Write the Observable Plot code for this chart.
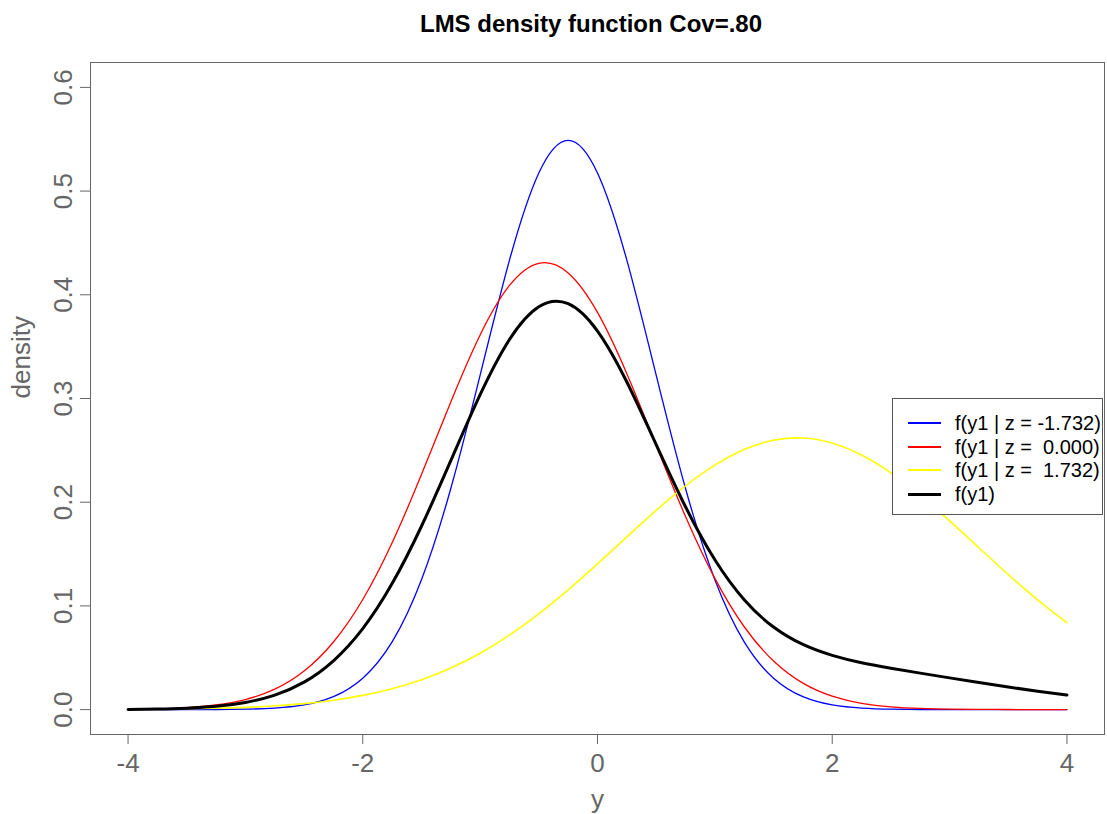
<!DOCTYPE html>
<html>
<head>
<meta charset="utf-8">
<script src="https://cdn.jsdelivr.net/npm/d3@7"></script>
<script src="https://cdn.jsdelivr.net/npm/@observablehq/plot@0.6"></script>
<style>
  html, body { margin: 0; padding: 0; background: #fff; }
  #wrap { position: relative; width: 1107px; height: 814px; font-family: "Liberation Sans", Arial, sans-serif; }
  #title { position: absolute; left: 391px; width: 400px; top: 12px; text-align: center; font-weight: bold; font-size: 24px; line-height: 24px; color: #000; }
  #legend { position: absolute; left: 892px; top: 398px; width: 209px; height: 115px; border: 1px solid #555; background: #fff; }
  .row { position: absolute; left: 0; height: 24px; width: 209px; }
  .sw { position: absolute; left: 15px; width: 33px; }
  .lab { position: absolute; left: 62px; top: 0; font-size: 20px; line-height: 24px; white-space: pre; color: #000; }
</style>
</head>
<body>
<div id="wrap">
  <div id="chart"></div>
  <div id="title"></div>
  <div id="legend"></div>
</div>
<script>
// ---- data ----
const titleText = "LMS density function Cov=.80";
const xLabel = "y";
const yLabel = "density";
const xTicks = [-4, -2, 0, 2, 4];
const yTicks = [0, 0.1, 0.2, 0.3, 0.4, 0.5, 0.6];

const xs = [-4, -3.75, -3.5, -3.25, -3, -2.75, -2.5, -2.25, -2, -1.75, -1.5, -1.25, -1, -0.75, -0.5, -0.25,
            0, 0.25, 0.5, 0.75, 1, 1.25, 1.5, 1.75, 2, 2.25, 2.5, 2.75, 3, 3.25, 3.5, 3.75, 4];

const seriesNames = ["f(y1 | z = -1.732)", "f(y1 | z =  0.000)", "f(y1 | z =  1.732)", "f(y1)"];
const seriesColors = ["#0000FF", "#FF0000", "#FFFF00", "#000000"];
const seriesWidths = [1.3, 1.3, 1.6, 3];

const blueVals = [0, 0, 0, 0.0001, 0.0004, 0.0015, 0.0046, 0.0125, 0.0303, 0.0653, 0.1252, 0.2132, 0.3225, 0.4334, 0.5175, 0.549,
                  0.5175, 0.4334, 0.3225, 0.2132, 0.1252, 0.0653, 0.0303, 0.0125, 0.0046, 0.0015, 0.0004, 0.0001, 0, 0, 0, 0, 0];
const redVals = [0.0003, 0.0008, 0.0019, 0.0045, 0.0097, 0.0197, 0.0372, 0.0652, 0.1062, 0.1609, 0.2266, 0.2967, 0.3613, 0.4090, 0.4304, 0.4211,
                 0.3830, 0.3239, 0.2547, 0.1862, 0.1265, 0.0799, 0.0469, 0.0256, 0.0130, 0.0061, 0.0027, 0.0011, 0.0004, 0.0002, 0.0001, 0, 0];
const yellowVals = [0.0002, 0.0004, 0.0008, 0.0013, 0.0022, 0.0037, 0.0058, 0.0091, 0.0137, 0.0201, 0.0288, 0.0401, 0.0544, 0.0718, 0.0923, 0.1154,
                    0.1405, 0.1665, 0.1921, 0.2157, 0.2357, 0.2508, 0.2597, 0.2619, 0.2570, 0.2455, 0.2282, 0.2066, 0.1820, 0.1561, 0.1303, 0.1059, 0.0838];
const blackVals = [0.0002, 0.0006, 0.0014, 0.0032, 0.0069, 0.0140, 0.0265, 0.0471, 0.0781, 0.1215, 0.1768, 0.2400, 0.3037, 0.3569, 0.3885, 0.3914,
                   0.3650, 0.3159, 0.2556, 0.1956, 0.1445, 0.1060, 0.0796, 0.0628, 0.0523, 0.0452, 0.0399, 0.0352, 0.0306, 0.0261, 0.0218, 0.0177, 0.0140];

const allVals = [blueVals, redVals, yellowVals, blackVals];

// ---- build table ----
const rows = [];
allVals.forEach((vals, si) => {
  vals.forEach((v, i) => rows.push({x: xs[i], y: v, s: si}));
});

const grey = "#666666";

const chart = Plot.plot({
  width: 1107,
  height: 814,
  marginTop: 62,
  marginRight: 3,
  marginBottom: 80,
  marginLeft: 90,
  style: {fontFamily: "'Liberation Sans', Arial, sans-serif", background: "#fff", overflow: "visible"},
  x: {domain: [-4.32, 4.32]},
  y: {domain: [-0.024, 0.624]},
  marks: [
    Plot.frame({stroke: grey, strokeWidth: 1}),
    Plot.axisX({ticks: xTicks, tickSize: 10, tickPadding: 9, fontSize: 26, stroke: grey, fill: grey,
                tickFormat: d => String(d).replace("−", "-"), label: null}),
    Plot.axisY({ticks: yTicks, tickSize: 10, tickPadding: 9, tickRotate: -90, fontSize: 26, stroke: grey, fill: grey,
                tickFormat: d => d.toFixed(1), label: null}),
    Plot.text([xLabel], {frameAnchor: "bottom", dy: 73, fontSize: 26, fill: grey, text: d => d}),
    Plot.text([yLabel], {frameAnchor: "left", dx: -69, rotate: -90, fontSize: 26, fill: grey, text: d => d}),
    ...allVals.map((vals, si) =>
      Plot.line(rows.filter(r => r.s === si), {x: "x", y: "y", stroke: seriesColors[si], strokeWidth: seriesWidths[si], curve: "natural"})
    )
  ]
});
document.getElementById("chart").appendChild(chart);

document.getElementById("title").textContent = titleText;

const legend = document.getElementById("legend");
const rowTops = [12, 36, 59, 83];
seriesNames.forEach((name, i) => {
  const r = document.createElement("div");
  r.className = "row";
  r.style.top = rowTops[i] + "px";
  const sw = document.createElement("div");
  sw.className = "sw";
  const h = i === 3 ? 3 : 2;
  sw.style.height = h + "px";
  sw.style.top = (12 - h / 2) + "px";
  sw.style.background = seriesColors[i];
  const lab = document.createElement("div");
  lab.className = "lab";
  lab.textContent = name;
  r.appendChild(sw);
  r.appendChild(lab);
  legend.appendChild(r);
});
</script>
</body>
</html>
